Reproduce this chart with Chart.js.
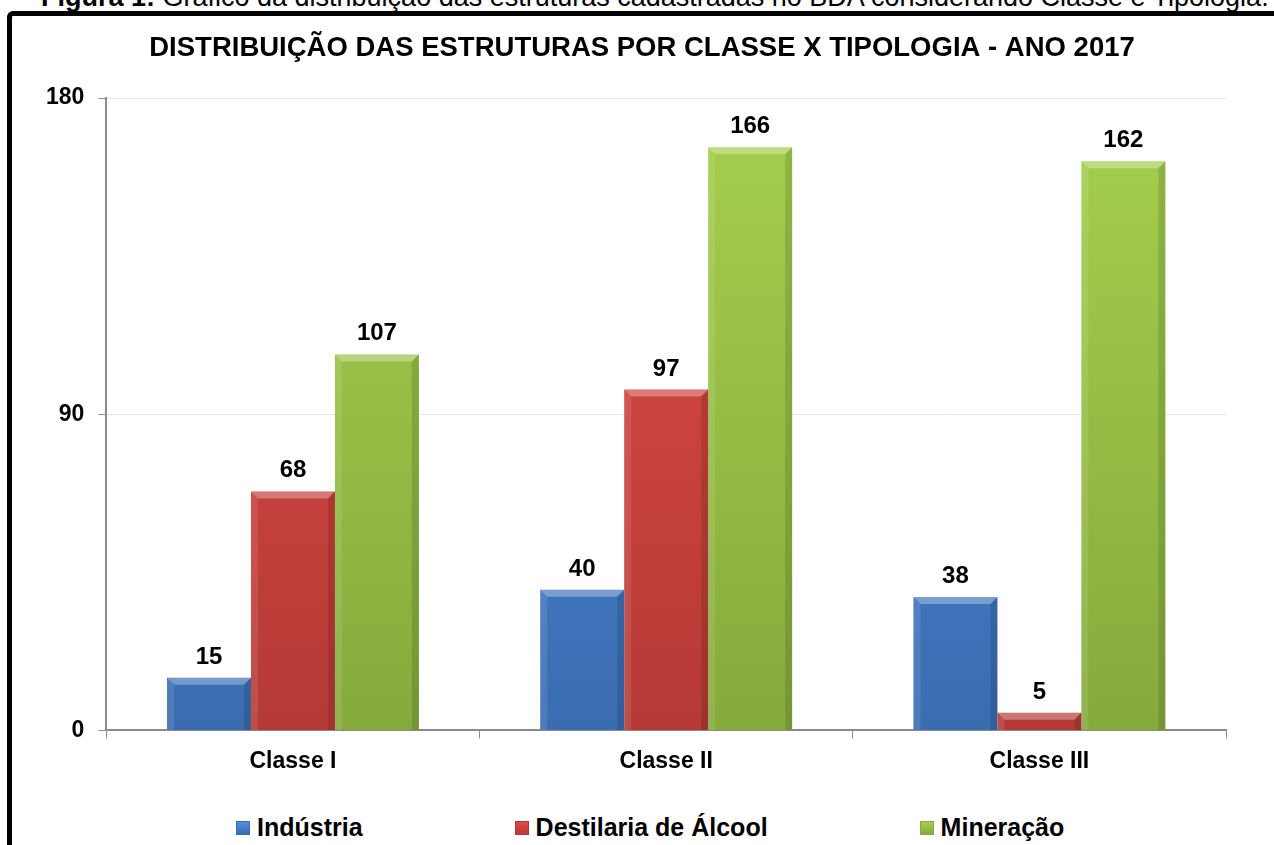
<!DOCTYPE html>
<html>
<head>
<meta charset="utf-8">
<script src="https://cdn.jsdelivr.net/npm/chart.js@4.4.0/dist/chart.umd.min.js"></script>
<style>
  html, body { margin: 0; padding: 0; background: #fff; }
  body { width: 1274px; height: 845px; position: relative; overflow: hidden; font-family: "Liberation Sans", Arial, sans-serif; }
  .caption { position: absolute; left: 41px; top: -16px; font-size: 27px; line-height: 27px; white-space: nowrap; color: #000; }
  .frame { position: absolute; left: 7px; top: 11px; width: 1320px; height: 900px; border: 5px solid #000; border-radius: 6px; box-sizing: border-box; }
  .wrap { position: absolute; left: 0; top: 0; width: 1274px; height: 800px; }
  .legend { position: absolute; left: 236px; top: 815px; display: flex; gap: 152px; font-weight: bold; font-size: 25px; line-height: 25px; color: #000; }
  .legend .item { display: flex; align-items: center; }
  .legend .box { width: 14px; height: 14px; margin-right: 7px; box-sizing: border-box; }
</style>
</head>
<body>
<div class="caption"><b>Figura 1:</b> Gráfico da distribuição das estruturas cadastradas no BDA considerando Classe e Tipologia.</div>
<div class="frame"></div>
<div class="wrap"><canvas id="myChart"></canvas></div>
<div class="legend" id="legend"></div>
<script>
const categories = ["Classe I", "Classe II", "Classe III"];
const seriesNames = ["Indústria", "Destilaria de Álcool", "Mineração"];
const industria = [15, 40, 38];
const destilaria = [68, 97, 5];
const mineracao = [107, 166, 162];
const yTicks = [0, 90, 180];

// top / bottom / mid colours for each series
const colorsTop = ["#4f8fdd", "#df4a46", "#a5d04d"];
const colorsBottom = ["#3a6cb0", "#b53a36", "#86aa3c"];
const colorsMid = ["#4479c6", "#c9423f", "#93bd43"];

const gradientFor = (i) => (context) => {
  const chart = context.chart;
  const area = chart.chartArea;
  if (!area) return colorsMid[i];
  const g = chart.ctx.createLinearGradient(0, area.top, 0, area.bottom);
  g.addColorStop(0, colorsTop[i]);
  g.addColorStop(1, colorsBottom[i]);
  return g;
};

const bevelPlugin = {
  id: "bevel",
  afterDatasetsDraw(chart) {
    const ctx = chart.ctx;
    chart.data.datasets.forEach((ds, di) => {
      chart.getDatasetMeta(di).data.forEach((bar) => {
        const l = bar.x - bar.width / 2;
        const r = bar.x + bar.width / 2;
        const t = bar.y;
        const b = bar.base;
        const s = Math.min(7, (b - t) / 2);
        ctx.save();
        // top bevel
        ctx.fillStyle = "rgba(255,255,255,0.3)";
        ctx.beginPath();
        ctx.moveTo(l, t); ctx.lineTo(r, t); ctx.lineTo(r - s, t + s); ctx.lineTo(l + s, t + s);
        ctx.closePath(); ctx.fill();
        // left bevel
        ctx.fillStyle = "rgba(255,255,255,0.1)";
        ctx.beginPath();
        ctx.moveTo(l, t); ctx.lineTo(l + s, t + s); ctx.lineTo(l + s, b); ctx.lineTo(l, b);
        ctx.closePath(); ctx.fill();
        // right bevel
        ctx.fillStyle = "rgba(0,0,0,0.12)";
        ctx.beginPath();
        ctx.moveTo(r, t); ctx.lineTo(r - s, t + s); ctx.lineTo(r - s, b); ctx.lineTo(r, b);
        ctx.closePath(); ctx.fill();
        ctx.restore();
      });
    });
  }
};

const valueLabels = {
  id: "valueLabels",
  afterDatasetsDraw(chart) {
    const ctx = chart.ctx;
    ctx.save();
    ctx.font = "bold 24px 'Liberation Sans', Arial, sans-serif";
    ctx.fillStyle = "#000";
    ctx.textAlign = "center";
    ctx.textBaseline = "alphabetic";
    chart.data.datasets.forEach((ds, di) => {
      chart.getDatasetMeta(di).data.forEach((bar, i) => {
        ctx.fillText(ds.data[i], bar.x, bar.y - 14);
      });
    });
    ctx.restore();
  }
};

// nudge the title box so it centres like the original
const titleShift = {
  id: "titleShift",
  afterLayout(chart) {
    if (chart.titleBlock) chart.titleBlock.left += 26;
  }
};

const seriesData = [industria, destilaria, mineracao];

const ctx = document.getElementById("myChart").getContext("2d");
const myChart = new Chart(ctx, {
  type: "bar",
  data: {
    labels: categories,
    datasets: seriesNames.map((name, i) => ({
      label: name,
      data: seriesData[i],
      backgroundColor: gradientFor(i),
      borderWidth: 0,
      categoryPercentage: 0.675,
      barPercentage: 1.0,
    })),
  },
  options: {
    responsive: true,
    maintainAspectRatio: false,
    animation: false,
    layout: { padding: { left: 32, right: 48, top: 31, bottom: 16 } },
    plugins: {
      legend: { display: false },
      tooltip: { enabled: false },
      title: {
        display: true,
        text: "DISTRIBUIÇÃO DAS ESTRUTURAS POR CLASSE X TIPOLOGIA - ANO 2017",
        color: "#000",
        font: { family: "'Liberation Sans', Arial, sans-serif", size: 27.5, weight: "bold" },
        padding: { top: 1, bottom: 33 },
      },
    },
    scales: {
      x: {
        grid: { display: true, drawOnChartArea: false, offset: true, tickLength: 8, tickColor: "#8a8a8a", color: "#8a8a8a" },
        border: { color: "#8a8a8a", width: 2 },
        ticks: {
          color: "#000",
          padding: 9,
          font: { family: "'Liberation Sans', Arial, sans-serif", size: 23, weight: "bold" },
        },
      },
      y: {
        min: 0,
        max: 180,
        afterBuildTicks: (axis) => { axis.ticks = yTicks.map((v) => ({ value: v })); },
        grid: { color: "#e6e6e6", tickLength: 8, tickColor: "#8a8a8a" },
        border: { color: "#8a8a8a", width: 2 },
        ticks: {
          color: "#000",
          padding: 14,
          font: { family: "'Liberation Sans', Arial, sans-serif", size: 23, weight: "bold" },
        },
      },
    },
  },
  plugins: [bevelPlugin, valueLabels, titleShift],
});

// html legend built from the chart datasets
const legendEl = document.getElementById("legend");
myChart.data.datasets.forEach((ds, i) => {
  const item = document.createElement("div");
  item.className = "item";
  const box = document.createElement("span");
  box.className = "box";
  box.style.background = "linear-gradient(" + colorsTop[i] + ", " + colorsBottom[i] + ")";
  box.style.border = "1px solid " + colorsBottom[i];
  const txt = document.createElement("span");
  txt.textContent = ds.label;
  item.appendChild(box);
  item.appendChild(txt);
  legendEl.appendChild(item);
});
</script>
</body>
</html>
